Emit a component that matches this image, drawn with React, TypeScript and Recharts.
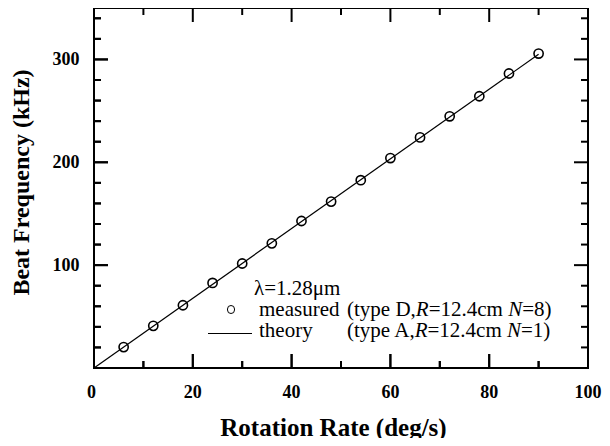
import React from 'react';
import { ComposedChart, Line, Scatter, XAxis, YAxis, ReferenceLine, ReferenceArea } from 'recharts';

// ---- data ----
const rotationRates = [6, 12, 18, 24, 30, 36, 42, 48, 54, 60, 66, 72, 78, 84, 90];
const measuredKHz = [20.3, 41, 61, 82.7, 101.6, 121.2, 142.9, 161.8, 182.6, 204.1, 224.2, 244.7, 264.2, 286.3, 305.7];
const theoryRates = [0, 90];
const theoryKHz = [0, 305];
const xTicks = [0, 10, 20, 30, 40, 50, 60, 70, 80, 90, 100];
const yTicks = [0, 20, 40, 60, 80, 100, 120, 140, 160, 180, 200, 220, 240, 260, 280, 300, 320, 340];
const xLabelTicks = [0, 20, 40, 60, 80, 100];
const yLabelTicks = [100, 200, 300];
const xMax = 100;
const yMax = 350;

const measured = rotationRates.map((x, i) => ({ x, y: measuredKHz[i] }));
const theory = theoryRates.map((x, i) => ({ x, y: theoryKHz[i] }));

const FONT = '"Liberation Serif", "Times New Roman", serif';
const MAJOR = 14;
const MINOR = 7;
const TICK_W = 2;
const INK = 'black';

const BottomTick = (p: any) => {
  const v = p.payload.value;
  const major = xLabelTicks.includes(v);
  return (
    <g>
      <line x1={p.x} x2={p.x} y1={p.y} y2={p.y - (major ? MAJOR : MINOR)} stroke={INK} strokeWidth={TICK_W} />
      {major && (
        <text x={p.x - (v === 0 ? 2.5 : 0)} y={p.y + 29.5} textAnchor="middle" fontFamily={FONT} fontWeight="bold" fontSize={18} fill={INK}>
          {v}
        </text>
      )}
    </g>
  );
};

const LeftTick = (p: any) => {
  const v = p.payload.value;
  const major = yLabelTicks.includes(v);
  return (
    <g>
      <line x1={p.x} x2={p.x + (major ? MAJOR : MINOR)} y1={p.y} y2={p.y} stroke={INK} strokeWidth={TICK_W} />
      {major && (
        <text x={p.x - 14.5} y={p.y + 5.5} textAnchor="end" fontFamily={FONT} fontWeight="bold" fontSize={18} fill={INK}>
          {v}
        </text>
      )}
    </g>
  );
};

// vertical reference line -> inward tick marks at bottom and top of the frame
const vTickShape = (len: number) => (p: any) => {
  const top = Math.min(p.y1, p.y2);
  const bot = Math.max(p.y1, p.y2);
  return (
    <g>
      <line x1={p.x1} x2={p.x1} y1={bot} y2={bot - len} stroke={INK} strokeWidth={TICK_W} />
      <line x1={p.x1} x2={p.x1} y1={top} y2={top + len} stroke={INK} strokeWidth={TICK_W} />
    </g>
  );
};

// horizontal reference line -> inward tick marks at left and right of the frame
const hTickShape = (len: number) => (p: any) => {
  const l = Math.min(p.x1, p.x2);
  const r = Math.max(p.x1, p.x2);
  return (
    <g>
      <line x1={l} x2={l + len} y1={p.y1} y2={p.y1} stroke={INK} strokeWidth={TICK_W} />
      <line x1={r} x2={r - len} y1={p.y1} y2={p.y1} stroke={INK} strokeWidth={TICK_W} />
    </g>
  );
};

const Ring = (p: any) => <circle cx={p.cx} cy={p.cy} r={4.6} fill="none" stroke={INK} strokeWidth={1.6} />;

const XTitle = (p: any) => {
  const vb = p.viewBox;
  return (
    <text x={vb.x + vb.width / 2 - 7.5} y={vb.y + 68} textAnchor="middle" fontFamily={FONT} fontWeight="bold" fontSize={25} fill={INK}>
      Rotation Rate (deg/s)
    </text>
  );
};

const YTitle = (p: any) => {
  const vb = p.viewBox;
  const cx = vb.x - 64.5;
  const cy = vb.y + vb.height / 2 - 5.5;
  return (
    <text x={cx} y={cy} transform={`rotate(-90 ${cx} ${cy})`} textAnchor="middle" fontFamily={FONT} fontWeight="bold" fontSize={24} fill={INK}>
      Beat Frequency (kHz)
    </text>
  );
};

const border = { stroke: INK, strokeWidth: 2 };

const legendText: React.CSSProperties = {
  position: 'absolute',
  fontFamily: FONT,
  fontSize: 21,
  lineHeight: '21px',
  color: '#000',
  whiteSpace: 'nowrap',
};

export default function App() {
  return (
    <div style={{ position: 'relative', width: 610, height: 446, margin: -8, background: '#fff', overflow: 'hidden' }}>
      <ComposedChart width={610} height={446} margin={{ top: 8, right: 22, bottom: 77, left: 93 }}>
        <XAxis xAxisId="b" type="number" dataKey="x" domain={[0, xMax]} ticks={xTicks} interval={0} height={1}
          tickSize={0} tickMargin={0} tickLine={false} axisLine={border} tick={(p: any) => <BottomTick {...p} />}
          label={(p: any) => <XTitle {...p} />} />
        <YAxis yAxisId="l" type="number" domain={[0, yMax]} ticks={yTicks} interval={0} width={1}
          tickSize={0} tickMargin={0} tickLine={false} axisLine={border} tick={(p: any) => <LeftTick {...p} />}
          label={(p: any) => <YTitle {...p} />} />
        <ReferenceArea xAxisId="b" yAxisId="l" x1={0} x2={xMax} y1={0} y2={yMax} fill="none" fillOpacity={0}
          stroke={INK} strokeWidth={2} ifOverflow="visible" />
        {xTicks.map((v) => (
          <ReferenceLine key={'vx' + v} xAxisId="b" yAxisId="l" x={v} ifOverflow="visible"
            shape={vTickShape(xLabelTicks.includes(v) ? MAJOR : MINOR)} />
        ))}
        {yTicks.map((v) => (
          <ReferenceLine key={'hy' + v} xAxisId="b" yAxisId="l" y={v} ifOverflow="visible"
            shape={hTickShape(yLabelTicks.includes(v) ? MAJOR : MINOR)} />
        ))}
        <ReferenceLine xAxisId="b" yAxisId="l" y={yMax} stroke={INK} strokeWidth={2} ifOverflow="visible" />
        <ReferenceLine xAxisId="b" yAxisId="l" x={xMax} stroke={INK} strokeWidth={2} ifOverflow="visible" />
        <Line xAxisId="b" yAxisId="l" data={theory} dataKey="y" type="linear" stroke={INK} strokeWidth={1.2}
          dot={false} activeDot={false} isAnimationActive={false} />
        <Scatter xAxisId="b" yAxisId="l" data={measured} dataKey="y" shape={(p: any) => <Ring {...p} />} isAnimationActive={false} />
      </ComposedChart>
      {/* legend */}
      <div style={{ ...legendText, left: 254, top: 278 }}>λ=1.28μm</div>
      <div style={{ position: 'absolute', left: 226.9, top: 305.4, width: 6.2, height: 6.2, border: '1.5px solid #000', borderRadius: '50%' }} />
      <div style={{ ...legendText, left: 259, top: 298.5 }}>measured</div>
      <div style={{ ...legendText, left: 347, top: 298.5 }}>(type D,<i>R</i>=12.4cm <i>N</i>=8)</div>
      <div style={{ position: 'absolute', left: 208, top: 332.5, width: 44, height: 0, borderTop: '1px solid #000' }} />
      <div style={{ ...legendText, left: 259, top: 319.5 }}>theory</div>
      <div style={{ ...legendText, left: 347, top: 319.5 }}>(type A,<i>R</i>=12.4cm <i>N</i>=1)</div>
    </div>
  );
}
